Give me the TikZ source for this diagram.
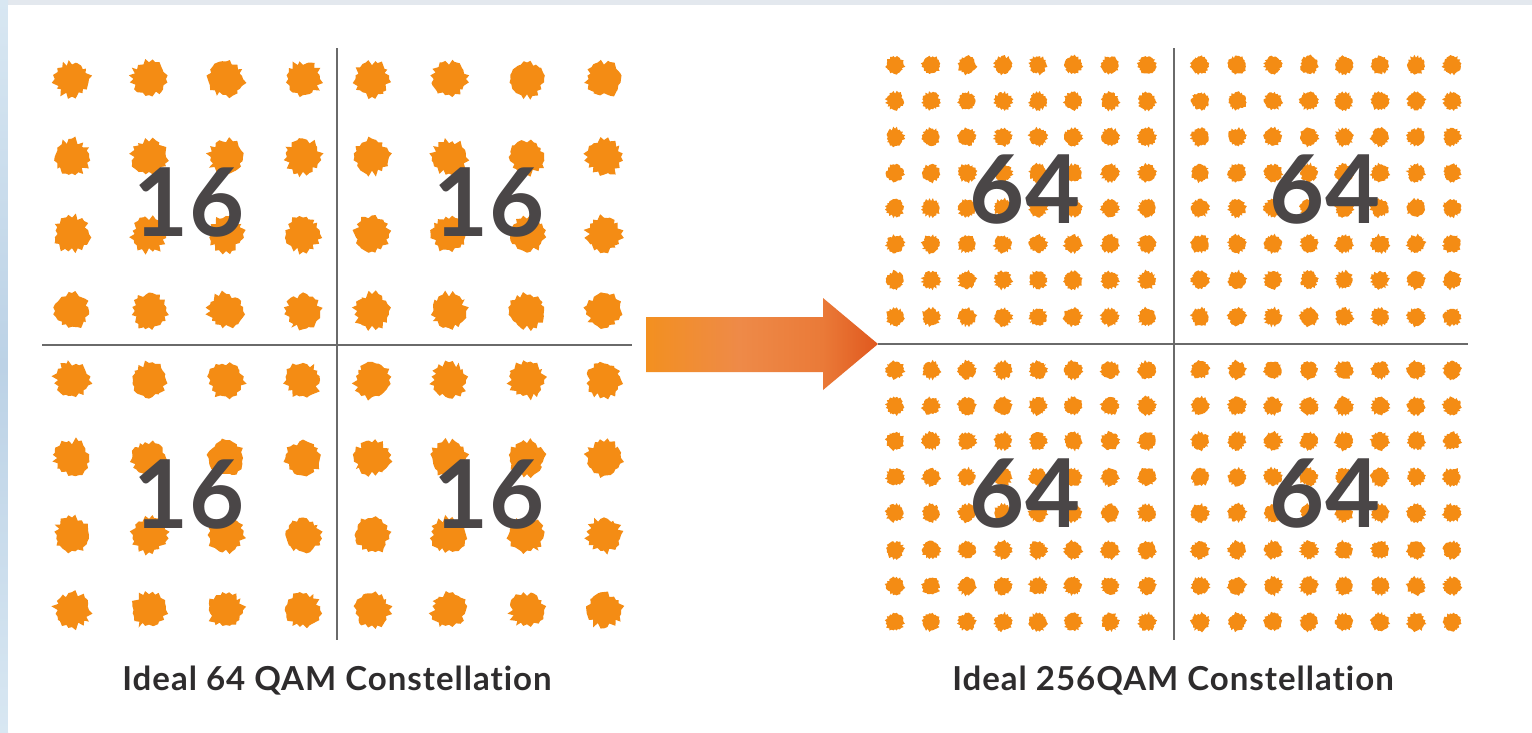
\documentclass[tikz,border=0pt]{standalone}
\usepackage{fontspec}
\setmainfont{Lato}[Ligatures={NoCommon}]
\definecolor{dotorange}{HTML}{F48C14}
\definecolor{numgray}{HTML}{4A4647}
\definecolor{captext}{HTML}{2E2C2D}
\definecolor{axisgray}{HTML}{6A6A6A}
\definecolor{frametop}{HTML}{E3E8EE}
\definecolor{frameblueA}{HTML}{D8E7F2}
\definecolor{frameblueB}{HTML}{BCD2E6}
\definecolor{arrowA}{HTML}{F39020}
\definecolor{arrowB}{HTML}{EE8A48}
\definecolor{arrowM}{HTML}{EA7A38}
\definecolor{arrowC}{HTML}{E0581E}

% left-to-right fade of the transition arrow
\pgfdeclarehorizontalshading{arrowfade}{100bp}{%
  color(0bp)=(arrowA); color(25bp)=(arrowA); color(45bp)=(arrowB);
  color(63bp)=(arrowM); color(75bp)=(arrowC); color(100bp)=(arrowC)}

% ragged constellation point: centre x, centre y, mean radius
\newcommand{\burstdot}[3]{%
  \fill[dotorange] ([shift={(#1,#2)}]0:#3)
    \foreach \k in {1,...,31}{ -- ([shift={(#1,#2)}]{\k*360/32}:{#3*(0.8+0.3*rnd+0.14*mod(\k,2))}) } -- cycle;}

\tikzset{
  axisline/.style={draw=axisgray, line width=2pt},
  bignum/.style={text=numgray, font=\fontsize{95}{95}\selectfont\bfseries, inner sep=0pt},
  caption/.style={text=captext, font=\fontsize{33}{33}\selectfont\bfseries\addfontfeatures{LetterSpace=3}, inner sep=0pt},
}

\begin{document}
\begin{tikzpicture}[x=1pt, y=-1pt]
\pgfmathsetseed{7}
\useasboundingbox (0,0) rectangle (1532,732);

% frame and white panel
\fill[frametop] (0,0) rectangle (1532,732);
\shade[top color=frameblueA, bottom color=frameblueA, middle color=frameblueB] (0,0) rectangle (8,732);
\fill[white] (8,5) rectangle (1532,732);

% axes of the 64-QAM plane
\coordinate (lvT) at (337,48);  \coordinate (lvB) at (337,640);
\coordinate (lhL) at (42,345);  \coordinate (lhR) at (632,345);
\draw[axisline] (lvT) -- (lvB);
\draw[axisline] (lhL) -- (lhR);

% axes of the 256-QAM plane
\coordinate (rvT) at (1174,48);  \coordinate (rvB) at (1174,640);
\coordinate (rhL) at (878,344);  \coordinate (rhR) at (1468,344);
\draw[axisline] (rvT) -- (rvB);
\draw[axisline] (rhL) -- (rhR);

% 64-QAM points
\foreach \x in {72,149,226,303,372,449,527,604}
  \foreach \y in {79,157,234,311,380,458,535,610}
    {\burstdot{\x}{\y}{17}}

% 256-QAM points
\foreach \x in {895,931,967,1003,1038,1073,1110,1147,1200,1237,1273,1309,1344,1380,1416,1452}
  \foreach \y in {65,101,137,173,208,244,280,317,370,406,441,477,513,550,586,622}
    {\burstdot{\x}{\y}{8.6}}

% quadrant counts
\node[bignum] (l1) at (189,202) {16};
\node[bignum] (l2) at (489,202) {16};
\node[bignum] (l3) at (189,494) {16};
\node[bignum] (l4) at (489,494) {16};
\node[bignum] (r1) at (1025,190) {64};
\node[bignum] (r2) at (1325,190) {64};
\node[bignum] (r3) at (1025,494) {64};
\node[bignum] (r4) at (1325,494) {64};

% transition arrow
\shade[shading=arrowfade]
  (646,317) -- (823,317) -- (823,298) -- (878,344) -- (823,390) -- (823,372) -- (646,372) -- cycle;

% captions
\node[caption] (capL) at (337,681) {Ideal 64 QAM Constellation};
\node[caption] (capR) at (1173,681) {Ideal 256QAM Constellation};
\end{tikzpicture}
\end{document}
